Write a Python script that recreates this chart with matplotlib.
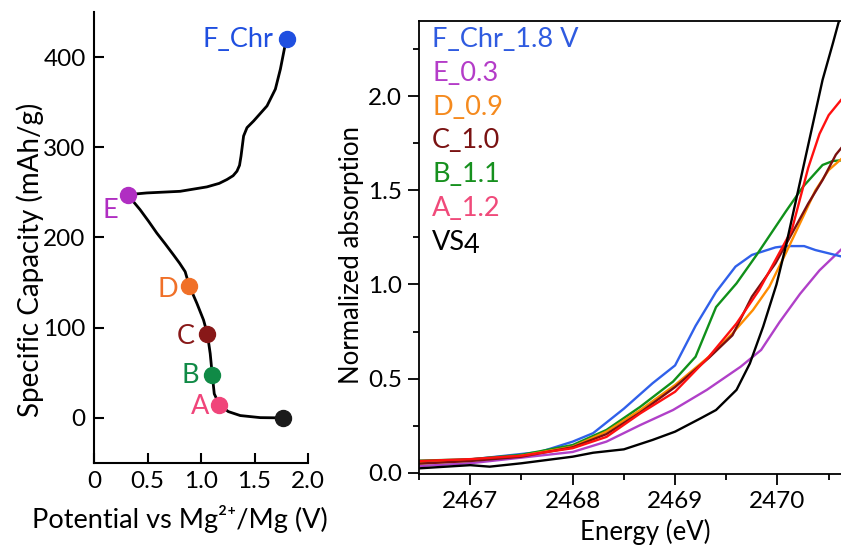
import matplotlib
matplotlib.use("Agg")
import matplotlib.pyplot as plt
import numpy as np
from matplotlib.ticker import MultipleLocator, FormatStrFormatter

plt.rcParams['font.family'] = ['Lato', 'DejaVu Sans']

# ---------------- Left panel data: discharge/charge curve ----------------
curve_v = [1.77, 1.554, 1.367, 1.255, 1.171, 1.124, 1.105, 1.086, 1.06, 1.024, 0.962, 0.892,
           0.852, 0.80, 0.743, 0.665, 0.587, 0.51, 0.431, 0.37, 0.316, 0.493, 0.805, 1.055,
           1.17, 1.243, 1.30, 1.336, 1.36, 1.374, 1.398, 1.430, 1.492, 1.617, 1.695, 1.742,
           1.779, 1.80]
curve_cap = [0, 0.3, 2.6, 7, 14.8, 26.7, 48, 71.3, 92.8, 108.4, 126.9, 146,
             162.1, 171.5, 180.7, 193, 204.9, 218, 230.8, 239.5, 247.5, 249.4, 251.2, 256.1,
             260, 264.3, 268.5, 273.5, 280, 290.2, 312.5, 321.8, 329.2, 345.9, 364.5, 386.7,
             409, 420]

point_names = ["F_Chr", "E", "D", "C", "B", "A", ""]
point_v = [1.80, 0.316, 0.892, 1.06, 1.105, 1.171, 1.77]
point_cap = [420, 247.5, 146, 92.8, 48, 14.8, 0]
point_colors = ["#1f4fe0", "#b02ec2", "#f07028", "#881818", "#108a46", "#f0457a", "#1a1a1a"]
label_offsets = [(-13, 0), (-17, -16), (-11, -3), (-13, -2), (-13, -1), (-10, -2), (0, 0)]
label_ha = ["right", "center", "right", "right", "right", "right", "right"]

# ---------------- Right panel data: XANES spectra ----------------
spectra_names = ["F_Chr_1.8 V", "E_0.3", "D_0.9", "C_1.0", "B_1.1", "A_1.2", "VS4"]
text_colors = ["#2f5be0", "#b43cc8", "#f58a1e", "#7a1212", "#16901e", "#f04a7a", "#000000"]
line_colors = ["#3060ea", "#b040c8", "#ff8c00", "#7a1010", "#10901a", "#ff1010", "#000000"]

blue_e = [2466.5, 2467.0, 2467.68, 2468.0, 2468.2, 2468.5, 2468.78, 2469.0, 2469.2, 2469.4,
          2469.59, 2469.75, 2469.98, 2470.08, 2470.26, 2470.37, 2470.63]
blue_a = [0.058, 0.07, 0.11, 0.165, 0.21, 0.34, 0.475, 0.57, 0.78, 0.96,
          1.095, 1.157, 1.197, 1.204, 1.204, 1.183, 1.148]

purple_e = [2466.5, 2467.0, 2468.0, 2468.33, 2468.66, 2468.98, 2469.31, 2469.64, 2469.84,
            2470.02, 2470.22, 2470.41, 2470.63]
purple_a = [0.035, 0.05, 0.11, 0.165, 0.253, 0.333, 0.44, 0.563, 0.652,
            0.80, 0.95, 1.075, 1.19]

orange_e = [2466.5, 2467.0, 2467.5, 2468.0, 2468.33, 2468.66, 2469.0, 2469.33, 2469.56, 2469.76,
            2469.92, 2470.08, 2470.25, 2470.37, 2470.5, 2470.63]
orange_a = [0.05, 0.065, 0.09, 0.138, 0.218, 0.333, 0.466, 0.616, 0.74, 0.864,
            0.988, 1.165, 1.36, 1.50, 1.608, 1.67]

darkred_e = [2466.5, 2467.0, 2467.5, 2468.0, 2468.33, 2468.66, 2469.0, 2469.33, 2469.56, 2469.75,
             2469.98, 2470.14, 2470.3, 2470.44, 2470.57, 2470.63]
darkred_a = [0.048, 0.062, 0.085, 0.135, 0.205, 0.32, 0.455, 0.61, 0.73, 0.935,
             1.112, 1.27, 1.43, 1.555, 1.69, 1.73]

green_e = [2466.5, 2467.0, 2467.5, 2468.0, 2468.33, 2468.66, 2468.98, 2469.2, 2469.4, 2469.6,
           2469.8, 2470.08, 2470.25, 2470.44, 2470.54, 2470.63]
green_a = [0.064, 0.071, 0.095, 0.147, 0.227, 0.35, 0.484, 0.616, 0.88, 1.006,
           1.16, 1.387, 1.52, 1.635, 1.656, 1.66]

red_e = [2466.5, 2467.0, 2467.5, 2468.0, 2468.33, 2468.66, 2469.0, 2469.33, 2469.6, 2469.82,
         2469.98, 2470.14, 2470.3, 2470.41, 2470.5, 2470.62]
red_a = [0.062, 0.072, 0.09, 0.13, 0.19, 0.315, 0.43, 0.616, 0.793, 0.97,
         1.13, 1.29, 1.62, 1.80, 1.90, 1.98]

black_e = [2466.5, 2467.0, 2467.19, 2467.5, 2468.0, 2468.2, 2468.5, 2468.78, 2469.0, 2469.25,
           2469.4, 2469.6, 2469.73, 2469.86, 2469.99, 2470.08, 2470.21, 2470.34, 2470.44,
           2470.54, 2470.6]
black_a = [0.023, 0.04, 0.032, 0.05, 0.085, 0.106, 0.124, 0.174, 0.218, 0.289,
           0.333, 0.44, 0.58, 0.776, 1.0, 1.2, 1.52, 1.84, 2.087, 2.28, 2.40]

spectra_e = [blue_e, purple_e, orange_e, darkred_e, green_e, red_e, black_e]
spectra_a = [blue_a, purple_a, orange_a, darkred_a, green_a, red_a, black_a]
draw_order = [1, 0, 4, 2, 3, 5, 6]

W, H = 841, 547

# ---------------- Figure ----------------
fig = plt.figure(figsize=(W / 100, H / 100), dpi=100)

axL = fig.add_axes([94 / W, 1 - 463 / H, (308 - 94) / W, (463 - 12) / H])
axL.plot(curve_v, curve_cap, color="black", lw=2.0, zorder=2)
for i in range(len(point_v)):
    axL.plot(point_v[i], point_cap[i], "o", color=point_colors[i], ms=11.5, zorder=3)
    if point_names[i]:
        axL.annotate(point_names[i], xy=(point_v[i], point_cap[i]),
                     xytext=label_offsets[i], textcoords="offset pixels",
                     ha=label_ha[i], va="center", color=point_colors[i], fontsize=19.5)
axL.set_xlim(0, 2.0)
axL.set_ylim(-50, 450)
axL.yaxis.set_major_locator(MultipleLocator(100))
axL.set_xticks([0, 0.5, 1.0, 1.5, 2.0])
axL.set_xticklabels(["0", "0.5", "1.0", "1.5", "2.0"])
axL.spines["top"].set_visible(False)
axL.spines["right"].set_visible(False)
for s in ["left", "bottom"]:
    axL.spines[s].set_linewidth(1.5)
axL.tick_params(direction="in", length=7, width=1.5, labelsize=17.5, pad=6)

fig.text(180 / W, 1 - 519 / H, "Potential vs Mg\u00b2\u207a/Mg (V)", fontsize=19.5,
         ha="center", va="center")
fig.text(30 / W, 1 - 260 / H, "Specific Capacity (mAh/g)", fontsize=20, rotation=90,
         ha="center", va="center")

axR = fig.add_axes([419 / W, 1 - 474 / H, (W - 419) / W, (474 - 21) / H])
for i in draw_order:
    axR.plot(spectra_e[i], spectra_a[i], color=line_colors[i], lw=1.7)
axR.set_xlim(2466.5, 2470.62)
axR.set_ylim(-0.007, 2.40)
axR.xaxis.set_major_locator(MultipleLocator(1))
axR.xaxis.set_minor_locator(MultipleLocator(0.5))
axR.yaxis.set_major_locator(MultipleLocator(0.5))
axR.yaxis.set_minor_locator(MultipleLocator(0.25))
axR.spines["right"].set_visible(False)
for s in ["left", "bottom", "top"]:
    axR.spines[s].set_linewidth(1.3)
axR.tick_params(which="major", direction="out", length=8, width=1.3, labelsize=17.5, pad=4)
axR.tick_params(which="minor", direction="out", length=4, width=1.3)
axR.yaxis.set_major_formatter(FormatStrFormatter("%.1f"))

fig.text(645 / W, 1 - 532 / H, "Energy (eV)", fontsize=18.5, ha="center", va="center")
fig.text(352 / W, 1 - 255 / H, "Normalized absorption", fontsize=18.5, rotation=90,
         ha="center", va="center")

base_y = (474 - 47) / 453
step = 33.8 / 453
for i, name in enumerate(spectra_names):
    y = base_y - i * step
    if name == "VS4":
        t = axR.text(0.031, y, "VS", transform=axR.transAxes, color=text_colors[i],
                     fontsize=19.5, va="baseline", ha="left")
        axR.annotate("4", xy=(1, 0), xycoords=t, xytext=(-1, -3), textcoords="offset pixels",
                     color=text_colors[i], fontsize=19.5, va="bottom", ha="left")
    else:
        axR.text(0.031, y, name, transform=axR.transAxes, color=text_colors[i],
                 fontsize=19.5, va="baseline", ha="left")

fig.savefig("out.png", dpi=100)
